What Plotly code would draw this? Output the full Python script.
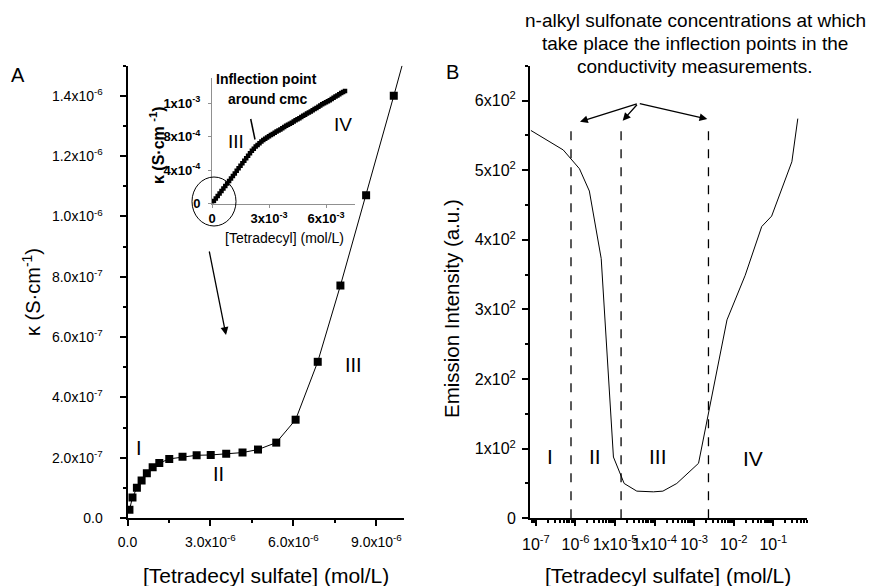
import plotly.graph_objects as go

W, H = 871, 586
FONT = "Liberation Sans, Arial, sans-serif"

# ---- Panel A main data ----
conc_a = [0.07e-6, 0.18e-6, 0.34e-6, 0.51e-6, 0.70e-6, 0.91e-6, 1.15e-6, 1.51e-6, 1.99e-6, 2.50e-6,
          3.01e-6, 3.57e-6, 4.16e-6, 4.72e-6, 5.38e-6, 6.08e-6, 6.88e-6, 7.70e-6, 8.63e-6, 9.63e-6]
kappa_a = [2.7e-8, 6.8e-8, 1.0e-7, 1.24e-7, 1.48e-7, 1.68e-7, 1.82e-7, 1.96e-7, 2.03e-7, 2.08e-7,
           2.09e-7, 2.13e-7, 2.17e-7, 2.27e-7, 2.50e-7, 3.26e-7, 5.18e-7, 7.71e-7, 1.07e-6, 1.40e-6]
line_end_x = [9.93e-6]
line_end_y = [1.50e-6]

a_xticks = [0, 3e-6, 6e-6, 9e-6]
a_xtext = ["0.0", "3.0x10<sup>-6</sup>", "6.0x10<sup>-6</sup>", "9.0x10<sup>-6</sup>"]
a_yticks = [0, 2e-7, 4e-7, 6e-7, 8e-7, 1.0e-6, 1.2e-6, 1.4e-6]
a_ytext = ["0.0", "2.0x10<sup>-7</sup>", "4.0x10<sup>-7</sup>", "6.0x10<sup>-7</sup>",
           "8.0x10<sup>-7</sup>", "1.0x10<sup>-6</sup>", "1.2x10<sup>-6</sup>", "1.4x10<sup>-6</sup>"]

# ---- Inset data (concentration in mmol/L, conductivity in 1e-4 S/cm) ----
conc_in_mM = [0.0, 0.1, 0.2, 0.3, 0.4, 0.5, 0.6, 0.7, 0.8, 0.9,
              1.0, 1.1, 1.2, 1.3, 1.4, 1.5, 1.6, 1.7, 1.8, 1.9,
              2.0, 2.1, 2.2, 2.3, 2.4, 2.5, 2.6, 2.7, 2.8, 2.9,
              3.0, 3.1, 3.2, 3.3, 3.4, 3.5, 3.6, 3.7, 3.8, 3.9,
              4.0, 4.1, 4.2, 4.3, 4.4, 4.5, 4.6, 4.7, 4.8, 4.9,
              5.0, 5.1, 5.2, 5.3, 5.4, 5.5, 5.6, 5.7, 5.8, 5.9,
              6.0, 6.1, 6.2, 6.3, 6.4, 6.5, 6.6, 6.7, 6.8, 6.9, 7.0]
kappa_in_e4 = [0.0, 0.3, 0.6, 0.9, 1.2, 1.5, 1.8, 2.1, 2.4, 2.7,
               3.0, 3.3, 3.6, 3.9, 4.2, 4.5, 4.8, 5.1, 5.4, 5.7,
               6.0, 6.3, 6.55, 6.8, 7.0, 7.2, 7.4, 7.6, 7.75, 7.9,
               8.05, 8.18, 8.3, 8.45, 8.6, 8.72, 8.85, 9.0, 9.15, 9.28,
               9.4, 9.52, 9.65, 9.8, 9.95, 10.08, 10.2, 10.35, 10.5, 10.62,
               10.75, 10.88, 11.0, 11.15, 11.3, 11.42, 11.55, 11.7, 11.85, 11.98,
               12.1, 12.22, 12.35, 12.5, 12.65, 12.78, 12.9, 13.05, 13.2, 13.32, 13.45]
conc_in = [v * 1e-3 for v in conc_in_mM]
kappa_in = [v * 1e-4 for v in kappa_in_e4]

in_xticks = [0, 3e-3, 6e-3]
in_xtext = ["0", "3x10<sup>-3</sup>", "6x10<sup>-3</sup>"]
in_yticks = [0, 4e-4, 8e-4, 1.2e-3]
in_ytext = ["0", "4x10<sup>-4</sup>", "8x10<sup>-4</sup>", "1x10<sup>-3</sup>"]

# ---- Panel B data ----
conc_b = [7.46e-8, 4.9e-7, 1.26e-6, 2.24e-6, 4.47e-6, 9.1e-6, 1.7e-5, 3.55e-5, 9.3e-5, 1.62e-4,
          3.63e-4, 7.6e-4, 1.29e-3, 6.76e-3, 1.95e-2, 5.1e-2, 9.1e-2, 0.295, 0.417]
emis_b = [557, 529, 502, 470, 373, 88, 50, 39, 38, 39,
          50, 67, 79, 285, 349, 419, 434, 512, 574]
inflections = [7.7e-7, 1.42e-5, 2.3e-3]
dash_top = 560

b_xticks = [1e-7, 1e-6, 1e-5, 1e-4, 1e-3, 1e-2, 1e-1]
b_xtext = ["10<sup>-7</sup>", "10<sup>-6</sup>", "1x10<sup>-5</sup>", "1x10<sup>-4</sup>",
           "10<sup>-3</sup>", "10<sup>-2</sup>", "10<sup>-1</sup>"]
b_yticks = [0, 100, 200, 300, 400, 500, 600]
b_ytext = ["0", "1x10<sup>2</sup>", "2x10<sup>2</sup>", "3x10<sup>2</sup>",
           "4x10<sup>2</sup>", "5x10<sup>2</sup>", "6x10<sup>2</sup>"]

fig = go.Figure()

# Panel A
fig.add_trace(go.Scatter(x=conc_a + line_end_x, y=kappa_a + line_end_y, mode="lines",
                         line=dict(color="black", width=1), xaxis="x", yaxis="y", showlegend=False))
fig.add_trace(go.Scatter(x=conc_a, y=kappa_a, mode="markers",
                         marker=dict(symbol="square", size=8, color="black"),
                         xaxis="x", yaxis="y", showlegend=False))
# Inset
fig.add_trace(go.Scatter(x=conc_in, y=kappa_in, mode="markers",
                         marker=dict(symbol="square", size=4.5, color="black"),
                         xaxis="x3", yaxis="y3", showlegend=False))
# Panel B
fig.add_trace(go.Scatter(x=conc_b, y=emis_b, mode="lines",
                         line=dict(color="black", width=1), xaxis="x2", yaxis="y2", showlegend=False))
for xv in inflections:
    fig.add_trace(go.Scatter(x=[xv, xv], y=[0, dash_top], mode="lines",
                             line=dict(color="black", width=1.3, dash="dash"),
                             xaxis="x2", yaxis="y2", showlegend=False))


def px(x):
    return x / W


def py(y):
    return 1 - y / H


def main_axis(size):
    return dict(showline=True, linecolor="black", linewidth=2, ticks="outside", ticklen=6,
                tickwidth=2, tickcolor="black", showgrid=False, zeroline=False, automargin=False,
                tickfont=dict(family=FONT, size=size, color="black"), tickmode="array", tickangle=0)


minor_a_x = [1.5e-6, 4.5e-6, 7.5e-6]
minor_a_y = [1e-7, 3e-7, 5e-7, 7e-7, 9e-7, 1.1e-6, 1.3e-6, 1.5e-6]
minor_b_y = [50, 150, 250, 350, 450, 550, 650]
minor_b_x = [m * 10 ** e for e in range(-8, 0) for m in range(2, 10)]

inset_axis = dict(showline=True, linecolor="#909090", linewidth=1, ticks="outside", ticklen=3,
                  tickcolor="#909090", showgrid=False, zeroline=False, tickmode="array",
                  automargin=False, tickangle=0,
                  tickfont=dict(family=FONT, size=13, color="black", weight="bold"))

fig.update_layout(
    width=W, height=H, margin=dict(l=0, r=0, t=0, b=0),
    paper_bgcolor="white", plot_bgcolor="white",
    xaxis=dict(main_axis(14), domain=[px(127.5), px(404)], range=[0, 1e-5], anchor="y",
               tickvals=a_xticks, ticktext=a_xtext, ticklabelstandoff=4,
               minor=dict(tickvals=minor_a_x, ticks="outside", ticklen=3, tickwidth=2, tickcolor="black")),
    yaxis=dict(main_axis(14), domain=[py(518), py(65.7)], range=[0, 1.5e-6], anchor="x",
               tickvals=a_yticks, ticktext=a_ytext, ticklabelstandoff=14,
               minor=dict(tickvals=minor_a_y, ticks="outside", ticklen=3, tickwidth=2, tickcolor="black")),
    xaxis2=dict(main_axis(16), type="log", domain=[px(530), px(806.7)], range=[-7.15, -0.155], anchor="y2",
                tickvals=b_xticks, ticktext=b_xtext, ticklabelstandoff=4,
                minor=dict(tickvals=minor_b_x, ticks="outside", ticklen=3, tickwidth=1.5, tickcolor="black")),
    yaxis2=dict(main_axis(16), domain=[py(518.3), py(65.7)], range=[0, 650], anchor="x2",
                tickvals=b_yticks, ticktext=b_ytext, ticklabelstandoff=3,
                minor=dict(tickvals=minor_b_y, ticks="outside", ticklen=3, tickwidth=2, tickcolor="black")),
    xaxis3=dict(inset_axis, domain=[px(212), px(354.5)], range=[0, 7.5e-3], anchor="y3",
                tickvals=in_xticks, ticktext=in_xtext),
    yaxis3=dict(inset_axis, domain=[py(203.5), py(78)], range=[0, 1.5e-3], anchor="x3",
                tickvals=in_yticks, ticktext=in_ytext, ticklabelstandoff=5),
)

ann = []


def text(x, y, s, size, angle=0, bold=False):
    ann.append(dict(x=px(x), y=py(y), xref="paper", yref="paper", text=s, showarrow=False,
                    xanchor="center", yanchor="middle", textangle=angle,
                    font=dict(family=FONT, size=size, color="black", weight="bold" if bold else "normal")))


text(18, 75, "A", 20)
text(452, 72, "B", 20)
text(31, 292, "κ (S·cm<sup>-1</sup>)", 20, angle=-90)
text(266, 575, "[Tetradecyl sulfate] (mol/L)", 21)
text(451, 309, "Emission Intensity (a.u.)", 20.5, angle=-90)
text(668, 575, "[Tetradecyl sulfate] (mol/L)", 21)
text(695, 21, "n-alkyl sulfonate concentrations at which", 19)
text(695, 43.5, "take place the inflection points in the", 19)
text(695, 66, "conductivity measurements.", 19)
# region labels
text(139, 448, "I", 20)
text(218, 474, "II", 20)
text(353, 365, "III", 20)
text(550, 457, "I", 21)
text(595, 457, "II", 21)
text(658, 457, "III", 21)
text(753, 458, "IV", 21)
# inset texts
text(236, 141, "III", 19)
text(343, 124, "IV", 19)
text(266, 79.5, "Inflection point", 14, bold=True)
text(268, 99, "around cmc", 14, bold=True)
text(157, 145, "κ (S·cm <sup>-1</sup>)", 16, angle=-90, bold=True)
text(284, 238, "[Tetradecyl] (mol/L)", 14)


def arrow(tx, ty, hx, hy):
    ann.append(dict(x=px(hx), y=py(hy), xref="paper", yref="paper", ax=tx - hx, ay=ty - hy,
                    axref="pixel", ayref="pixel", text="", showarrow=True, arrowhead=2,
                    arrowsize=1.2, arrowwidth=1.3, arrowcolor="black"))


arrow(209, 250, 226, 335)
arrow(638.3, 103.3, 580, 121.7)
arrow(638.3, 103.3, 622.7, 120.7)
arrow(638.3, 103.3, 707.3, 119)

fig.update_layout(annotations=ann)

fig.update_layout(shapes=[
    dict(type="line", xref="paper", yref="paper", x0=px(250.7), y0=py(119), x1=px(255), y1=py(139.5),
         line=dict(color="black", width=1.5)),
    dict(type="circle", xref="paper", yref="paper", x0=px(192), x1=px(236), y0=py(226), y1=py(177),
         line=dict(color="black", width=1)),
])

fig.write_html("out.html", config={"displayModeBar": False},
               post_script="document.body.style.margin='0';document.body.style.padding='0';")
